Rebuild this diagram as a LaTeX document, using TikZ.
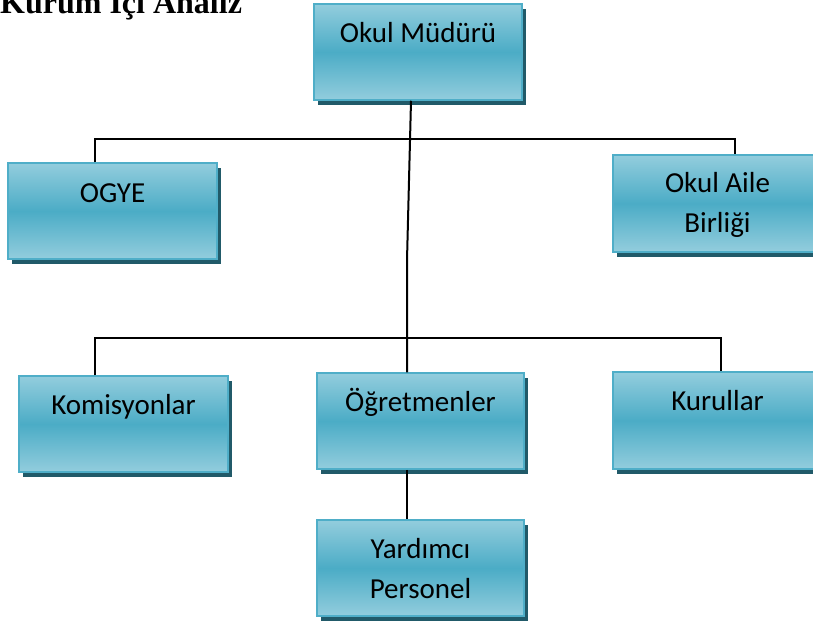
\documentclass[tikz,border=0pt]{standalone}
\usepackage{fontspec}
\setmainfont{Carlito}
\newfontfamily\titlefont{Liberation Serif}
\usetikzlibrary{shadows}
\definecolor{boxtop}{HTML}{93CDDD}
\definecolor{boxmid}{HTML}{4BACC6}
\definecolor{boxline}{HTML}{4FAEC8}
\definecolor{shadowc}{HTML}{215A69}
\tikzset{
  orgbox/.style={rectangle, minimum width=208pt, minimum height=96pt, inner sep=0pt,
    draw=boxline, line width=1.5pt, top color=boxtop, bottom color=boxtop, middle color=boxmid,
    drop shadow={shadow xshift=3.5pt, shadow yshift=-5pt, fill=shadowc, opacity=1}},
  boxtext/.style={anchor=north, inner sep=0pt, align=center, text=black,
    font=\fontsize{29}{40}\selectfont},
  conn/.style={draw=black, line width=2pt}
}
\begin{document}
\begin{tikzpicture}[x=1pt,y=-1pt]
\useasboundingbox (0,0) rectangle (813,621);
% title
\node[anchor=base west, inner sep=0pt, font=\titlefont\bfseries\fontsize{32}{38}\selectfont] (title) at (0,13) {Kurum İçi Analiz};
% boxes
\node[orgbox] (mud) at (418,52) {};
\node[orgbox, minimum width=209pt] (ogye) at (112.5,211) {};
\node[orgbox, minimum width=209pt, minimum height=97pt] (oab) at (717.5,203.5) {};
\node[orgbox, minimum width=209pt] (kom) at (123.5,424) {};
\node[orgbox, minimum width=207pt] (ogr) at (420.5,421) {};
\node[orgbox, minimum width=209pt, minimum height=97pt] (kur) at (717.5,420.5) {};
\node[orgbox, minimum width=207pt] (yar) at (420.5,568) {};
% texts
\node[boxtext] (tmud) at (mud.north) {\rule{0pt}{39pt}Okul Müdürü};
\node[boxtext] (togye) at (ogye.north) {\rule{0pt}{40pt}OGYE};
\node[boxtext] (toab) at (oab.north) {\rule{0pt}{38pt}Okul Aile\\Birliği};
\node[boxtext] (tkom) at (kom.north) {\rule{0pt}{39pt}Komisyonlar};
\node[boxtext] (togr) at (ogr.north) {\rule{0pt}{39pt}Öğretmenler};
\node[boxtext] (tkur) at (kur.north) {\rule{0pt}{39pt}Kurullar};
\node[boxtext] (tyar) at (yar.north) {\rule{0pt}{39pt}Yardımcı\\Personel};
% junction coordinates
\coordinate (tl) at (95,139);
\coordinate (tr) at (735,139);
\coordinate (ml) at (95,338);
\coordinate (mr) at (721,338);
\coordinate (mtop) at (411,0);
\coordinate (bend) at (407,260);
\coordinate (mx) at (407,338);
% connectors
\draw[conn] (ogye.north -| tl) -- (tl) -- (tr) -- (oab.north -| tr);
\draw[conn] (mud.south -| mtop) -- (bend) -- (ogr.north -| bend);
\draw[conn] (kom.north -| ml) -- (ml) -- (mr) -- (kur.north -| mr);
\draw[conn] (ogr.south -| mx) -- (yar.north -| mx);
\end{tikzpicture}
\end{document}
